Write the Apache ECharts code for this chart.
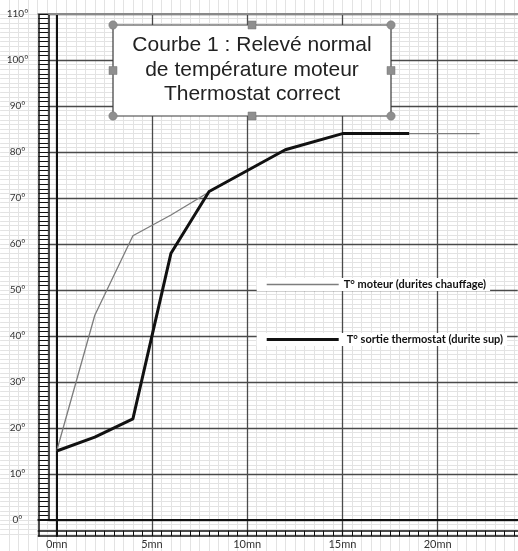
<!DOCTYPE html>
<html>
<head>
<meta charset="utf-8">
<script src="https://cdn.jsdelivr.net/npm/echarts@6/dist/echarts.min.js"></script>
<style>
html,body{margin:0;padding:0;background:#fff;}
#chart{width:518px;height:551px;}
</style>
</head>
<body>
<div id="chart"></div>
<script>
// ---- data ----
var timesMoteur = [0, 2, 4, 6, 8, 12, 15, 22.2];
var tempMoteur  = [15, 44.5, 61.8, 66.3, 71.3, 80.5, 84, 84];
var timesThermo = [0, 2, 4, 6, 8, 12, 15, 18.5];
var tempThermo  = [15, 18, 22, 58, 71.4, 80.5, 84, 84];
var xTickValues = [0, 5, 10, 15, 20];
var xTickLabels = ['0mn', '5mn', '10mn', '15mn', '20mn'];
var yTickValues = [0, 10, 20, 30, 40, 50, 60, 70, 80, 90, 100, 110];
var yTickLabels = ['0°', '10°', '20°', '30°', '40°', '50°', '60°', '70°', '80°', '90°', '100°', '110°'];
var seriesNames = ['T° moteur (durites chauffage)', 'T° sortie thermostat (durite sup)'];
var titleLines = ['Courbe 1 : Relevé normal', 'de température moteur', 'Thermostat correct'];

// ---- layout helpers ----
var X0 = 56.7, SX = 19.05, Y0 = 520, SY = 4.6;
var XMAX = 24.2;
function box(x1, x2, y1, y2) {
  return { left: X0 + x1 * SX, width: (x2 - x1) * SX, top: Y0 - y2 * SY, height: (y2 - y1) * SY, containLabel: false };
}
function ax(idx, min, max, extra) {
  var a = {
    type: 'value', gridIndex: idx, min: min, max: max, show: true,
    axisLine: { show: false, onZero: false }, axisTick: { show: false }, axisLabel: { show: false },
    splitLine: { show: false }, minorTick: { show: false }, minorSplitLine: { show: false }, z: 0
  };
  for (var k in extra) a[k] = extra[k];
  if (a.axisLine) a.axisLine.onZero = false;
  return a;
}
var FAINT = '#e3e3e3', MAJOR = '#4a4a4a', BLACK = '#111';

var grids = [
  box(-2.5, XMAX, -6, 110),     // 0 faint vertical
  box(-2.97, XMAX, -3, 110),    // 1 faint horizontal
  box(0, XMAX, -3.48, 110),     // 2 major vertical + y axis line
  box(-0.44, XMAX, 0, 110),     // 3 major horizontal + left ruler
  box(-0.966, XMAX, -3.48, 110),// 4 outer frame
  box(-0.966, XMAX, -2.33, 110),// 5 bottom ruler top line
  box(0, XMAX, -2.33, 110),     // 6 bottom ruler ticks + labels
  box(-0.966, XMAX, 0, 110),    // 7 x axis line + top line
  box(0, XMAX, 0, 110)          // 8 data
];
// faint vertical lines reach the very top and bottom of the page
grids[0].top = 0; grids[0].height = 551;

var xAxes = [
  ax(0, -2.5, XMAX, { interval: 0.5, splitLine: { show: true, showMaxLine: false, lineStyle: { color: FAINT, width: 1 } } }),
  ax(1, -2.97, XMAX, {}),
  ax(2, 0, XMAX, { interval: 5, z: 1, splitLine: { show: true, showMaxLine: false, lineStyle: { color: MAJOR, width: 1.3 } } }),
  ax(3, -0.44, XMAX, {}),
  ax(4, -0.966, XMAX, { z: 3, axisLine: { show: true, lineStyle: { color: BLACK, width: 1.5 } } }),
  ax(5, -0.966, XMAX, { z: 3, axisLine: { show: true, lineStyle: { color: BLACK, width: 1.5 } } }),
  ax(6, 0, XMAX, {
    interval: 0.5, z: 3,
    axisTick: { show: true, length: 5.3, inside: false, lineStyle: { color: BLACK, width: 1 } },
    axisLabel: {
      show: true, margin: 8.5, color: '#333', fontSize: 11, fontFamily: 'Lato',
      showMaxLabel: false, hideOverlap: false,
      formatter: function (v) { var i = xTickValues.indexOf(v); return i >= 0 ? xTickLabels[i] : ''; }
    }
  }),
  ax(7, -0.966, XMAX, { z: 3, axisLine: { show: true, lineStyle: { color: BLACK, width: 2 } } }),
  ax(7, -0.966, XMAX, { z: 3, position: 'top', axisLine: { show: true, lineStyle: { color: '#8a8a8a', width: 2 } } }),
  ax(8, 0, XMAX, {})
];

var yAxes = [
  ax(0, -6, 110, {}),
  ax(1, -3, 110, { interval: 1, splitLine: { show: true, lineStyle: { color: FAINT, width: 1 } } }),
  ax(2, -3.48, 110, { z: 3, axisLine: { show: true, lineStyle: { color: BLACK, width: 2 } } }),
  ax(3, 0, 110, {
    interval: 10, z: 3,
    splitLine: { show: true, lineStyle: { color: MAJOR, width: 1.3 } },
    axisLine: { show: true, lineStyle: { color: BLACK, width: 1.5 } },
    axisTick: { show: true, length: 10, inside: false, lineStyle: { color: BLACK, width: 1 } },
    minorTick: { show: true, splitNumber: 10, length: 10, lineStyle: { color: BLACK, width: 1 } },
    axisLabel: {
      show: true, margin: 30.8, align: 'center', color: '#333', fontSize: 10, fontFamily: 'Lato',
      padding: [6, 0, 0, 0],
      formatter: function (v) { var i = yTickValues.indexOf(v); return i >= 0 ? yTickLabels[i] : ''; }
    }
  }),
  ax(4, -3.48, 110, { z: 3, axisLine: { show: true, lineStyle: { color: BLACK, width: 1.5 } } }),
  ax(5, -2.33, 110, {}),
  ax(6, -2.33, 110, {}),
  ax(7, 0, 110, {}),
  ax(8, 0, 110, {})
];

function zip(xs, ys) { return xs.map(function (x, i) { return [x, ys[i]]; }); }

var legendText1 = { fontFamily: 'Lato', fontWeight: 'bold', fontSize: 11, color: '#111' };
var legendText2 = { fontFamily: 'Lato', fontWeight: 'bold', fontSize: 11, color: '#111', padding: [0, 0, 0, 3] };

// title box with selection handles
var bx = 113, by = 25, bw = 278, bh = 91;
var children = [
  { type: 'rect', z: 100, shape: { x: bx, y: by, width: bw, height: bh }, style: { fill: '#fff', stroke: '#3a3a3a', lineWidth: 1.2 } },
  { type: 'text', z: 101, style: { text: titleLines.join('\n'), x: bx + bw / 2, y: by + bh / 2 - 0.5, align: 'center', verticalAlign: 'middle',
      font: '21px "Liberation Sans"', fill: '#222', lineHeight: 24.3 } }
];
[[bx, by], [bx + bw, by], [bx, by + bh], [bx + bw, by + bh]].forEach(function (p) {
  children.push({ type: 'circle', z: 102, shape: { cx: p[0], cy: p[1], r: 4.2 }, style: { fill: '#8f8f8f', stroke: '#777', lineWidth: 0.5 } });
});
[[bx + bw / 2, by], [bx + bw / 2, by + bh], [bx, by + bh / 2], [bx + bw, by + bh / 2]].forEach(function (p) {
  children.push({ type: 'rect', z: 102, shape: { x: p[0] - 4, y: p[1] - 4, width: 8, height: 8 }, style: { fill: '#8f8f8f', stroke: '#777', lineWidth: 0.5 } });
});

var option = {
  animation: false,
  backgroundColor: '#fff',
  grid: grids,
  xAxis: xAxes,
  yAxis: yAxes,
  legend: [
    { data: [{ name: seriesNames[0], icon: 'rect' }], left: 256.7, top: 278, itemWidth: 72, itemHeight: 1.4, padding: [1, 4, 1, 10],
      backgroundColor: '#fff', textStyle: legendText1, z: 10 },
    { data: [{ name: seriesNames[1], icon: 'rect' }], left: 256.7, top: 333, itemWidth: 72, itemHeight: 3, padding: [1, 4, 1, 10],
      backgroundColor: '#fff', textStyle: legendText2, z: 10 }
  ],
  series: [
    { type: 'line', name: seriesNames[0], xAxisIndex: 9, yAxisIndex: 8, data: zip(timesMoteur, tempMoteur),
      symbol: 'none', z: 5, itemStyle: { color: '#7d7d7d' }, lineStyle: { color: '#7d7d7d', width: 1.3 } },
    { type: 'line', name: seriesNames[1], xAxisIndex: 9, yAxisIndex: 8, data: zip(timesThermo, tempThermo),
      symbol: 'none', z: 6, itemStyle: { color: '#111' }, lineStyle: { color: '#111', width: 3 } }
  ],
  graphic: [{ type: 'group', z: 100, children: children }]
};

var chart = echarts.init(document.getElementById('chart'), null, { renderer: 'canvas' });
chart.setOption(option);
</script>
</body>
</html>
